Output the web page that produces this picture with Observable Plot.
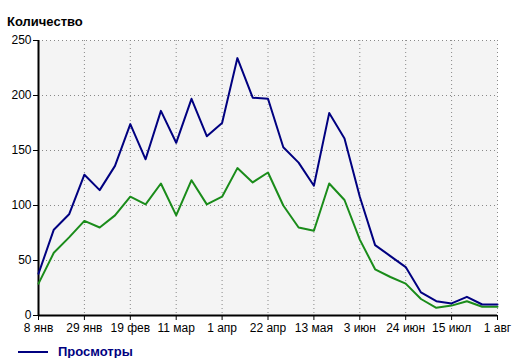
<!DOCTYPE html>
<html>
<head>
<meta charset="utf-8">
<script src="https://cdn.jsdelivr.net/npm/d3@7"></script>
<script src="https://cdn.jsdelivr.net/npm/@observablehq/plot@0.6"></script>
<style>
  html, body { margin: 0; padding: 0; background: #fff; }
  #wrap { position: relative; width: 521px; height: 358px; overflow: hidden; }
  #title { position: absolute; left: 7px; top: 14px; font: bold 13px/15px "Liberation Sans", Arial, sans-serif; color: #000; }
  #chart { position: absolute; left: 0; top: 0; }
  #legend { position: absolute; left: 18px; top: 345px; height: 13px; font: bold 13px/13px "Liberation Sans", Arial, sans-serif; color: #000080; display: flex; align-items: center; }
  #legend .sw { display: inline-block; width: 30px; height: 2px; background: #000080; margin-right: 10px; }
</style>
</head>
<body>
<div id="wrap">
  <div id="chart"></div>
  <div id="title">Количество</div>
  <div id="legend"><span class="sw"></span><span>Просмотры</span></div>
</div>
<script>
const tickLabels = ["8 янв","29 янв","19 фев","11 мар","1 апр","22 апр","13 мая","3 июн","24 июн","15 июл","1 авг"];
const views = [38, 78, 92, 128, 114, 136, 174, 142, 186, 157, 197, 163, 175, 234, 198, 197, 153, 139, 118, 184, 161, 108, 64, 54, 44, 21, 13, 11, 17, 10, 10];
const visitors = [29, 57, 71, 86, 80, 91, 108, 101, 120, 91, 123, 101, 108, 134, 121, 130, 100, 80, 77, 120, 105, 69, 42, 35, 29, 15, 7, 9, 13, 8, 8];
const yTicks = [0, 50, 100, 150, 200, 250];

const xTicks = tickLabels.map((_, k) => k * 3);
const viewsData = views.map((v, i) => ({week: i, value: v}));
const visitorsData = visitors.map((v, i) => ({week: i, value: v}));

const chart = Plot.plot({
  width: 521,
  height: 340,
  marginLeft: 38,
  marginRight: 24,
  marginTop: 40,
  marginBottom: 25,
  style: {fontFamily: "'Liberation Sans', Arial, sans-serif", fontSize: "12px", color: "#000", background: "transparent"},
  x: {domain: [0, 30]},
  y: {domain: [0, 250]},
  marks: [
    Plot.frame({fill: "#f4f4f4", stroke: "none"}),
    Plot.gridY(yTicks.slice(1), {stroke: "#888", strokeOpacity: 1, strokeDasharray: "1,3"}),
    Plot.gridX(xTicks.slice(1), {stroke: "#888", strokeOpacity: 1, strokeDasharray: "1,3"}),
    Plot.axisY({ticks: yTicks, tickSize: 5, tickPadding: 2, label: null, fontSize: 12}),
    Plot.axisX({ticks: xTicks, tickFormat: d => tickLabels[xTicks.indexOf(d)], tickSize: 5, tickPadding: 3, label: null, fontSize: 12}),
    Plot.ruleX([0], {stroke: "#000", strokeWidth: 2}),
    Plot.ruleY([0], {stroke: "#000", strokeWidth: 2}),
    Plot.line(visitorsData, {x: "week", y: "value", stroke: "#1a8c1a", strokeWidth: 2, curve: "linear"}),
    Plot.line(viewsData, {x: "week", y: "value", stroke: "#000080", strokeWidth: 2, curve: "linear"})
  ]
});
document.getElementById("chart").appendChild(chart);
</script>
</body>
</html>
